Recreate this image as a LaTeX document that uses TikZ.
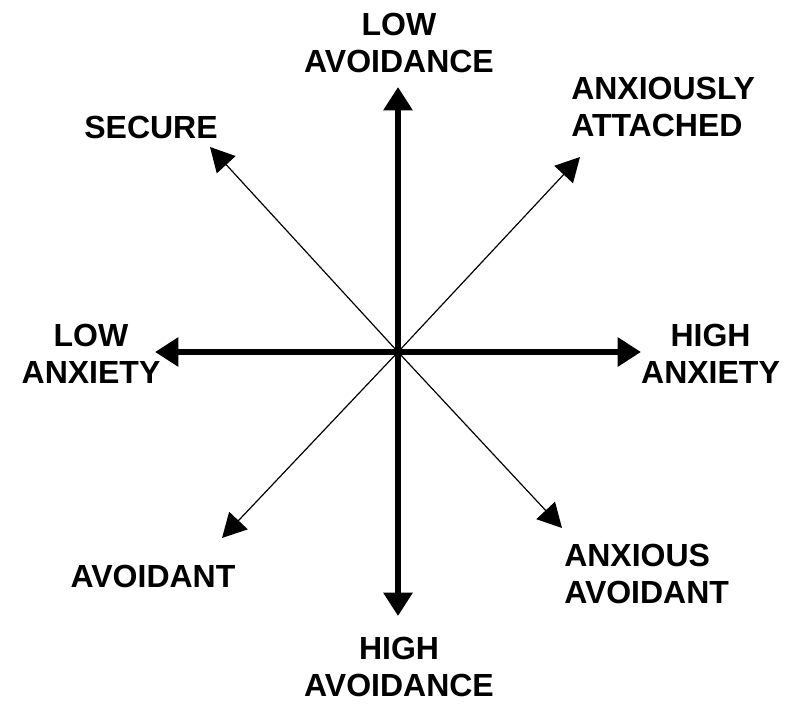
\documentclass[tikz,border=0pt]{standalone}
\usepackage{fontspec}
\setmainfont{Liberation Sans}
\usetikzlibrary{arrows.meta}
\begin{document}
\begin{tikzpicture}[x=0.75pt,y=-0.75pt,
    asse/.style={line width=4.5pt,-{Triangle[length=17.5pt,width=21pt]}},
    diag/.style={line width=0.9pt,-{Triangle[length=18pt,width=19pt]}},
    etic/.style={font=\bfseries\fontsize{24}{27.75}\selectfont,inner sep=0pt}]
    \useasboundingbox (0,0) rectangle (800,714);

     % Centro e punte delle frecce
    \coordinate (o) at (398,352);
    \coordinate (su) at (398,87);
    \coordinate (giu) at (398,616);
    \coordinate (sx) at (155,352);
    \coordinate (dx) at (641,352);
    \coordinate (nw) at (210,147);
    \coordinate (ne) at (580,157);
    \coordinate (sw) at (222,538);
    \coordinate (se) at (562,528);

     % Frecce sottili
    \draw[diag] (o) -- (nw);
    \draw[diag] (o) -- (ne);
    \draw[diag] (o) -- (sw);
    \draw[diag] (o) -- (se);

     % Assi
    \draw[asse] (o) -- (su);
    \draw[asse] (o) -- (giu);
    \draw[asse] (o) -- (sx);
    \draw[asse] (o) -- (dx);

     % Etichette
    \node[etic,align=center] (lowav) at (399,42.5) {LOW\\AVOIDANCE};
    \node[etic,align=center] (highav) at (399,667) {HIGH\\AVOIDANCE};
    \node[etic,align=center] (lowanx) at (91,354) {LOW\\ANXIETY};
    \node[etic,align=center] (highanx) at (710.5,354) {HIGH\\ANXIETY};
    \node[etic] (secure) at (151,127.5) {SECURE};
    \node[etic,align=left,anchor=west] (anxatt) at (571,106.5) {ANXIOUSLY\\ATTACHED};
    \node[etic] (avoid) at (153,576) {AVOIDANT};
    \node[etic,align=left,anchor=west] (anxav) at (564,574) {ANXIOUS\\AVOIDANT};
\end{tikzpicture}
\end{document}
